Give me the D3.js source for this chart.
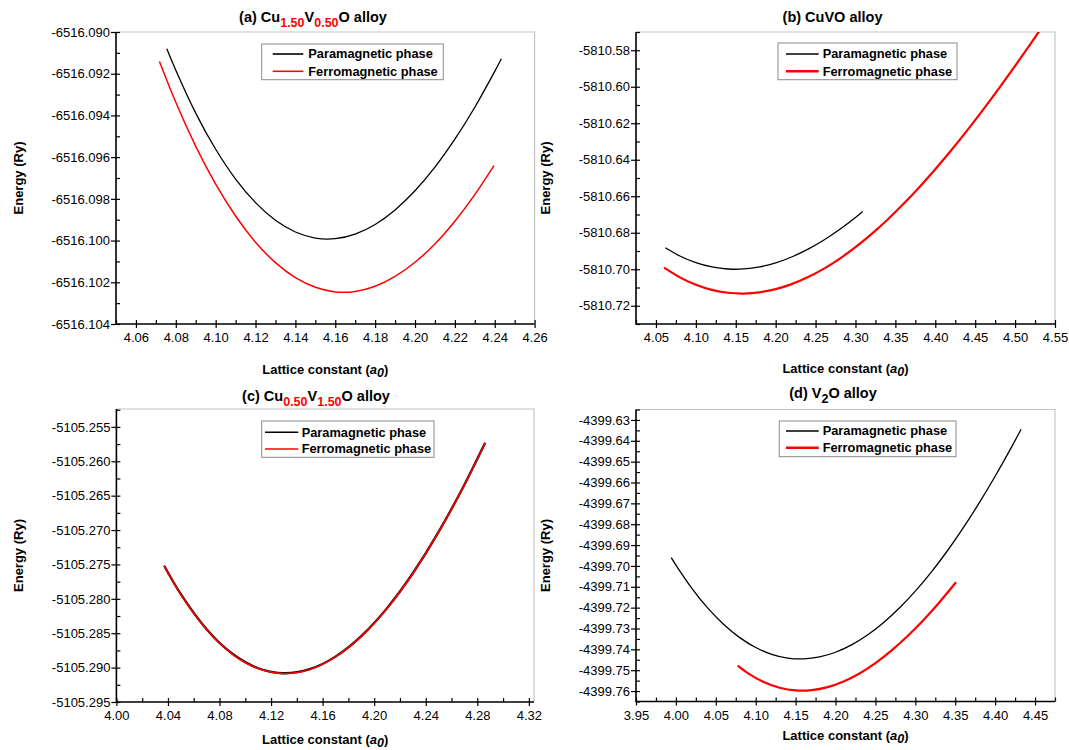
<!DOCTYPE html>
<html>
<head>
<meta charset="utf-8">
<script src="https://cdn.jsdelivr.net/npm/d3@7"></script>
<style>
  html, body { margin: 0; padding: 0; background: #fff; }
  svg { display: block; font-family: "Liberation Sans", Arial, Helvetica, sans-serif; }
</style>
</head>
<body>
<svg id="fig" width="1069" height="750"></svg>
<script>
// Total energy (Ry) versus lattice constant (a0) for four Cu-V-O alloys,
// paramagnetic and ferromagnetic phases.

// (a) Cu1.50V0.50O
const paraA = [[4.0755,-6516.09080],[4.08,-6516.09183],[4.09,-6516.09389],[4.10,-6516.09562],[4.11,-6516.09705],[4.12,-6516.09818],[4.13,-6516.09903],[4.14,-6516.09959],[4.15,-6516.09988],[4.16,-6516.09991],[4.17,-6516.09969],[4.18,-6516.09923],[4.19,-6516.09853],[4.20,-6516.09761],[4.21,-6516.09648],[4.22,-6516.09514],[4.23,-6516.09361],[4.24,-6516.09189],[4.2433,-6516.09128]];
const ferroA = [[4.0718,-6516.09141],[4.08,-6516.09337],[4.09,-6516.09548],[4.10,-6516.09729],[4.11,-6516.09882],[4.12,-6516.10008],[4.13,-6516.10106],[4.14,-6516.10178],[4.15,-6516.10224],[4.16,-6516.10246],[4.17,-6516.10244],[4.18,-6516.10219],[4.19,-6516.10172],[4.20,-6516.10104],[4.21,-6516.10016],[4.22,-6516.09907],[4.23,-6516.09780],[4.2396,-6516.09641]];

// (b) CuVO
const paraB = [[4.0617,-5810.68820],[4.08,-5810.69272],[4.10,-5810.69637],[4.12,-5810.69873],[4.14,-5810.69987],[4.16,-5810.69984],[4.18,-5810.69870],[4.20,-5810.69650],[4.22,-5810.69329],[4.24,-5810.68915],[4.26,-5810.68413],[4.28,-5810.67827],[4.30,-5810.67165],[4.3091,-5810.66840]];
const ferroB = [[4.0601,-5810.69913],[4.08,-5810.70444],[4.10,-5810.70848],[4.12,-5810.71128],[4.14,-5810.71287],[4.16,-5810.71331],[4.18,-5810.71264],[4.20,-5810.71091],[4.22,-5810.70816],[4.24,-5810.70444],[4.26,-5810.69979],[4.28,-5810.69427],[4.30,-5810.68791],[4.32,-5810.68076],[4.34,-5810.67287],[4.36,-5810.66429],[4.38,-5810.65505],[4.40,-5810.64522],[4.42,-5810.63482],[4.44,-5810.62392],[4.46,-5810.61255],[4.48,-5810.60076],[4.50,-5810.58859],[4.52,-5810.57610],[4.54,-5810.56333]];

// (c) Cu0.50V1.50O
const paraC = [[4.0371,-5105.27518],[4.05,-5105.27932],[4.07,-5105.28443],[4.09,-5105.28799],[4.11,-5105.29010],[4.13,-5105.29082],[4.15,-5105.29023],[4.17,-5105.28840],[4.19,-5105.28542],[4.21,-5105.28135],[4.23,-5105.27628],[4.25,-5105.27027],[4.27,-5105.26340],[4.2861,-5105.25730]];
const ferroC = [[4.0371,-5105.27521],[4.05,-5105.27936],[4.07,-5105.28447],[4.09,-5105.28803],[4.11,-5105.29014],[4.13,-5105.29086],[4.15,-5105.29027],[4.17,-5105.28844],[4.19,-5105.28546],[4.21,-5105.28139],[4.23,-5105.27632],[4.25,-5105.27031],[4.27,-5105.26344],[4.2861,-5105.25734]];

// (d) V2O
const paraD = [[3.9942,-4399.69604],[4.00,-4399.69960],[4.02,-4399.71076],[4.04,-4399.72024],[4.06,-4399.72810],[4.08,-4399.73438],[4.10,-4399.73912],[4.12,-4399.74237],[4.14,-4399.74418],[4.16,-4399.74458],[4.18,-4399.74363],[4.20,-4399.74138],[4.22,-4399.73786],[4.24,-4399.73313],[4.26,-4399.72723],[4.28,-4399.72020],[4.30,-4399.71210],[4.32,-4399.70296],[4.34,-4399.69284],[4.36,-4399.68177],[4.38,-4399.66981],[4.40,-4399.65700],[4.42,-4399.64339],[4.4325,-4399.63449]];
const ferroD = [[4.0774,-4399.74782],[4.09,-4399.75137],[4.11,-4399.75567],[4.13,-4399.75842],[4.15,-4399.75969],[4.17,-4399.75956],[4.19,-4399.75810],[4.21,-4399.75540],[4.23,-4399.75154],[4.25,-4399.74659],[4.27,-4399.74063],[4.29,-4399.73375],[4.31,-4399.72602],[4.33,-4399.71751],[4.351,-4399.70784]];

// Major tick values (labelled)
const xTicksA = [4.06,4.08,4.10,4.12,4.14,4.16,4.18,4.20,4.22,4.24,4.26];
const yTicksA = [-6516.104,-6516.102,-6516.100,-6516.098,-6516.096,-6516.094,-6516.092,-6516.090];
const xTicksB = [4.05,4.10,4.15,4.20,4.25,4.30,4.35,4.40,4.45,4.50,4.55];
const yTicksB = [-5810.72,-5810.70,-5810.68,-5810.66,-5810.64,-5810.62,-5810.60,-5810.58];
const xTicksC = [4.00,4.04,4.08,4.12,4.16,4.20,4.24,4.28,4.32];
const yTicksC = [-5105.295,-5105.290,-5105.285,-5105.280,-5105.275,-5105.270,-5105.265,-5105.260,-5105.255];
const xTicksD = [3.95,4.00,4.05,4.10,4.15,4.20,4.25,4.30,4.35,4.40,4.45];
const yTicksD = [-4399.76,-4399.75,-4399.74,-4399.73,-4399.72,-4399.71,-4399.70,-4399.69,-4399.68,-4399.67,-4399.66,-4399.65,-4399.64,-4399.63];

const seriesNames = ["Paramagnetic phase", "Ferromagnetic phase"];
const xTitle = "Lattice constant";
const yTitle = "Energy (Ry)";

const BLACK = "#000000", RED = "#ff0000";

const panels = [
  { id: "a", box: { l: 116, r: 534.6, t: 32, b: 324 },
    xDomain: [4.05, 4.26], yDomain: [-6516.104, -6516.090],
    xTicks: xTicksA, yTicks: yTicksA, xDec: 2, yDec: 3,
    para: paraA, ferro: ferroA, wPara: 1.3, wFerro: 1.5, lwPara: 1.6, lwFerro: 1.6,
    title: [["(a) Cu"], ["1.50", "sub", RED], ["V"], ["0.50", "sub", RED], ["O alloy"]],
    titleX: 313, titleY: 22, xTitleY: 374, yTitleX: 22.5,
    legend: { l: 261.7, r: 443.3, t: 44, b: 79.7, x1: 272.7, x2: 303.3, tx: 308.3, rows: [54, 71.3] } },
  { id: "b", box: { l: 636, r: 1055, t: 32, b: 324 },
    xDomain: [4.025, 4.55], yDomain: [-5810.73, -5810.57],
    xTicks: xTicksB, yTicks: yTicksB, xDec: 2, yDec: 2,
    para: paraB, ferro: ferroB, wPara: 1.3, wFerro: 2.2, lwPara: 1.6, lwFerro: 2.6,
    title: [["(b) CuVO alloy"]],
    titleX: 832.5, titleY: 22, xTitleY: 373, yTitleX: 549.5,
    legend: { l: 778, r: 957, t: 43, b: 79.7, x1: 786, x2: 818.7, tx: 822.7, rows: [54, 71.3] } },
  { id: "c", box: { l: 116.4, r: 534, t: 409, b: 702 },
    xDomain: [4.00, 4.324], yDomain: [-5105.295, -5105.2524],
    xTicks: xTicksC, yTicks: yTicksC, xDec: 2, yDec: 3,
    para: paraC, ferro: ferroC, wPara: 2.3, wFerro: 1.6, lwPara: 1.6, lwFerro: 1.6,
    title: [["(c) Cu"], ["0.50", "sub", RED], ["V"], ["1.50", "sub", RED], ["O alloy"]],
    titleX: 316, titleY: 401, xTitleY: 743.5, yTitleX: 22.5,
    legend: { l: 261.7, r: 434, t: 421, b: 457.3, x1: 265, x2: 298.3, tx: 301.7, rows: [432.3, 449] } },
  { id: "d", box: { l: 636, r: 1055, t: 409.5, b: 701.5 },
    xDomain: [3.95, 4.475], yDomain: [-4399.765, -4399.625],
    xTicks: xTicksD, yTicks: yTicksD, xDec: 2, yDec: 2,
    para: paraD, ferro: ferroD, wPara: 1.3, wFerro: 2.2, lwPara: 1.6, lwFerro: 2.6,
    title: [["(d) V"], ["2", "sub", BLACK], ["O alloy"]],
    titleX: 833, titleY: 398, xTitleY: 740, yTitleX: 549.5,
    legend: { l: 779.3, r: 956, t: 421, b: 456.7, x1: 786, x2: 818.7, tx: 822.7, rows: [431, 447.7] } }
];

const svg = d3.select("#fig");
const defs = svg.append("defs");

// minor ticks sit halfway between the labelled ones, extended to the axis ends
function minorTicks(major, domain) {
  const step = (major[1] - major[0]) / 2;
  const lo = Math.min(domain[0], domain[1]), hi = Math.max(domain[0], domain[1]);
  const out = [];
  for (let v = major[0] - step; v >= lo - 1e-9; v -= 2 * step) out.push(v);
  for (let i = 0; i < major.length; i++) {
    const v = major[i] + step;
    if (v <= hi + 1e-9) out.push(v);
  }
  return out;
}

panels.forEach(p => {
  const { l, r, t, b } = p.box;
  const x = d3.scaleLinear().domain(p.xDomain).range([l, r]);
  const y = d3.scaleLinear().domain(p.yDomain).range([b, t]);
  const g = svg.append("g").attr("class", "panel-" + p.id);

  // light upper/right frame
  g.append("path")
    .attr("d", `M${l},${t}H${r}V${b}`)
    .attr("fill", "none").attr("stroke", "#c4c4c4").attr("stroke-width", 1.2);

  // curves
  defs.append("clipPath").attr("id", "clip-" + p.id)
    .append("rect").attr("x", l).attr("y", t).attr("width", r - l).attr("height", b - t);
  const line = d3.line().x(d => x(d[0])).y(d => y(d[1])).curve(d3.curveNatural);
  const curves = g.append("g").attr("clip-path", `url(#clip-${p.id})`);
  curves.append("path").datum(p.para).attr("d", line)
    .attr("fill", "none").attr("stroke", BLACK).attr("stroke-width", p.wPara);
  curves.append("path").datum(p.ferro).attr("d", line)
    .attr("fill", "none").attr("stroke", RED).attr("stroke-width", p.wFerro);

  // minor ticks (inward)
  const mx = g.append("g").attr("transform", `translate(0,${b})`)
    .call(d3.axisBottom(x).tickValues(minorTicks(p.xTicks, p.xDomain)).tickSize(-4).tickFormat(""));
  const my = g.append("g").attr("transform", `translate(${l},0)`)
    .call(d3.axisLeft(y).tickValues(minorTicks(p.yTicks, p.yDomain)).tickSize(-4).tickFormat(""));
  [mx, my].forEach(s => { s.select(".domain").remove(); s.selectAll("line").attr("stroke-width", 1.2); });

  // major ticks (crossing) with labels
  const ax = g.append("g").attr("transform", `translate(0,${b})`)
    .call(d3.axisBottom(x).tickValues(p.xTicks).tickSize(4).tickPadding(5)
      .tickFormat(v => v.toFixed(p.xDec)));
  ax.selectAll(".tick line").attr("y1", -4);
  const ay = g.append("g").attr("transform", `translate(${l},0)`)
    .call(d3.axisLeft(y).tickValues(p.yTicks).tickSize(5).tickPadding(1)
      .tickFormat(v => v.toFixed(p.yDec)));
  ay.selectAll(".tick line").attr("x1", 4);
  [ax, ay].forEach(s => {
    s.select(".domain").remove();
    s.attr("font-size", 13).attr("font-family", null);
    s.selectAll("line").attr("stroke-width", 1.2);
    s.selectAll("text").attr("fill", "#000");
  });

  // axis lines
  g.append("path")
    .attr("d", `M${l},${t}V${b}H${r}`)
    .attr("fill", "none").attr("stroke", "#000").attr("stroke-width", 1.6);

  // panel title
  const tt = g.append("text").attr("x", p.titleX).attr("y", p.titleY)
    .attr("text-anchor", "middle").attr("font-weight", "bold").attr("font-size", 14.5);
  let shifted = false;
  p.title.forEach(([txt, kind, col]) => {
    const s = tt.append("tspan").text(txt);
    if (kind === "sub") {
      s.attr("font-size", 12.5).attr("dy", 4.5).attr("fill", col);
      shifted = true;
    } else if (shifted) {
      s.attr("dy", -4.5);
      shifted = false;
    }
  });

  // x-axis title
  const xt = g.append("text").attr("x", (l + r) / 2).attr("y", p.xTitleY)
    .attr("text-anchor", "middle").attr("font-weight", "bold").attr("font-size", 13);
  xt.append("tspan").text(xTitle + " (");
  xt.append("tspan").text("a").attr("font-style", "italic");
  xt.append("tspan").text("0").attr("font-style", "italic").attr("font-size", 12.5).attr("dy", 3);
  xt.append("tspan").text(")").attr("dy", -3);

  // y-axis title
  g.append("text")
    .attr("transform", `translate(${p.yTitleX},${(t + b) / 2}) rotate(-90)`)
    .attr("text-anchor", "middle").attr("font-weight", "bold").attr("font-size", 13)
    .text(yTitle);

  // legend
  const L = p.legend;
  const lg = g.append("g");
  lg.append("rect").attr("x", L.l).attr("y", L.t).attr("width", L.r - L.l).attr("height", L.b - L.t)
    .attr("fill", "#fff").attr("stroke", "#8a8a8a").attr("stroke-width", 1);
  [[BLACK, p.lwPara], [RED, p.lwFerro]].forEach(([col, w], i) => {
    lg.append("line").attr("x1", L.x1).attr("x2", L.x2).attr("y1", L.rows[i]).attr("y2", L.rows[i])
      .attr("stroke", col).attr("stroke-width", w);
    lg.append("text").attr("x", L.tx).attr("y", L.rows[i]).attr("dy", "0.35em")
      .attr("font-weight", "bold").attr("font-size", 12.8).text(seriesNames[i]);
  });
});
</script>
</body>
</html>
